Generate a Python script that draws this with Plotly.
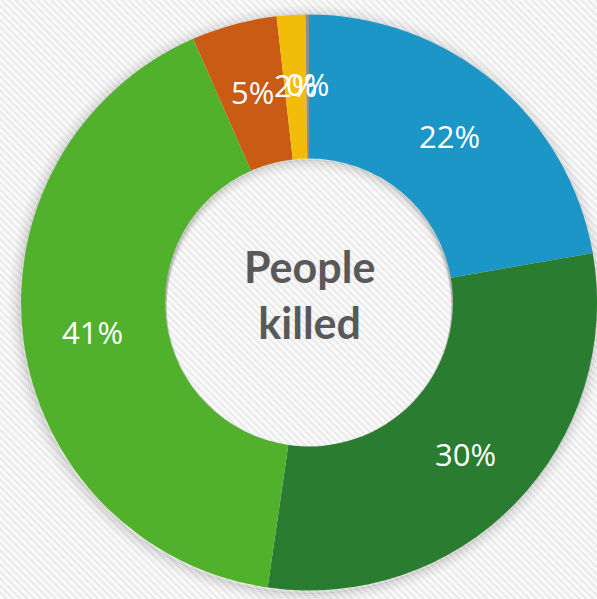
import numpy as np
import plotly.graph_objects as go

categories = ["Blue group", "Dark green group", "Light green group", "Orange group", "Yellow group", "Other"]
values = [22.3, 30.1, 41.2, 4.8, 1.6, 0.2]
colors = ["#1B96C6", "#2A7C31", "#52B12C", "#C95B14", "#F2BD0A", "#8E8E8E"]
center_title = "People<br>killed"

W, H = 597, 599
DOM_X = [21 / W, 1.0]
DOM_Y = [1 - 592 / H, 1 - 13 / H]
HOLE = 0.5

# geometry of the pie in pixels (plotly fits a circle in the domain)
dw = (DOM_X[1] - DOM_X[0]) * W
dh = (DOM_Y[1] - DOM_Y[0]) * H
R = min(dw, dh) / 2
CX = (DOM_X[0] + DOM_X[1]) / 2 * W
CY = (1 - (DOM_Y[0] + DOM_Y[1]) / 2) * H


def circle(cx, cy, r, color, width, layer="below"):
    return dict(type="circle", xref="paper", yref="paper", layer=layer,
                x0=(cx - r) / W, x1=(cx + r) / W,
                y0=1 - (cy + r) / H, y1=1 - (cy - r) / H,
                line=dict(color=color, width=width), fillcolor="rgba(0,0,0,0)")


shapes = []
# soft outer shadow around the ring
for k, a in [(1, 0.10), (3, 0.07), (5, 0.05), (7, 0.035), (9, 0.022), (11, 0.012)]:
    shapes.append(circle(CX - 1, CY + 2, R + k - 1, f"rgba(0,0,0,{a})", 3))
# inner shadow at the top of the hole
for s, a in [(1, 0.10), (3, 0.07), (5, 0.05), (7, 0.035), (9, 0.02), (11, 0.01)]:
    shapes.append(circle(CX, CY + s, R * HOLE, f"rgba(0,0,0,{a})", 3))

stripe_svg = (
    "data:image/svg+xml;utf8,"
    "<svg xmlns='http://www.w3.org/2000/svg' width='597' height='599'>"
    "<defs><pattern id='p' width='5' height='5' patternUnits='userSpaceOnUse' patternTransform='rotate(-45)'>"
    "<rect width='5' height='5' fill='%23f9f9f9'/>"
    "<rect width='2' height='5' fill='%23e9e9e9'/></pattern></defs>"
    "<rect width='597' height='599' fill='url(%23p)'/></svg>"
)

# slice labels: percentage of each value, placed at the middle of the ring
vals = np.array(values, dtype=float)
pct = vals / vals.sum()
mid_theta = np.radians((np.cumsum(pct) - pct / 2) * 360)
r_lab = R * 0.757
label_ann = []
for p, th in zip(pct, mid_theta):
    px = CX + r_lab * np.sin(th)
    py = CY - r_lab * np.cos(th)
    label_ann.append(dict(text=f"{round(p * 100):.0f}%", x=px / W, y=1 - py / H,
                          xref="paper", yref="paper", showarrow=False,
                          xanchor="center", yanchor="middle",
                          font=dict(family="Open Sans", size=31, color="white")))

fig = go.Figure()
fig.add_trace(go.Pie(
    labels=categories,
    values=values,
    marker=dict(colors=colors, line=dict(width=0)),
    hole=HOLE,
    sort=False,
    direction="clockwise",
    rotation=0,
    textinfo="none",
    hoverinfo="label+percent",
    showlegend=False,
    domain=dict(x=DOM_X, y=DOM_Y),
))

fig.update_layout(
    width=W, height=H,
    margin=dict(l=0, r=0, t=0, b=0),
    paper_bgcolor="#f4f4f4",
    plot_bgcolor="rgba(0,0,0,0)",
    images=[dict(source=stripe_svg, xref="paper", yref="paper", x=0, y=1,
                 sizex=1, sizey=1, sizing="stretch", layer="below")],
    shapes=shapes,
    annotations=label_ann + [dict(text="<b>" + center_title + "</b>", x=CX / W, y=1 - 294 / H,
                                  xref="paper", yref="paper", showarrow=False,
                                  font=dict(family="Lato", size=43, color="#595959"))],
)

fig.write_html("out.html", config={"displayModeBar": False},
               post_script="document.body.style.margin='0';")
